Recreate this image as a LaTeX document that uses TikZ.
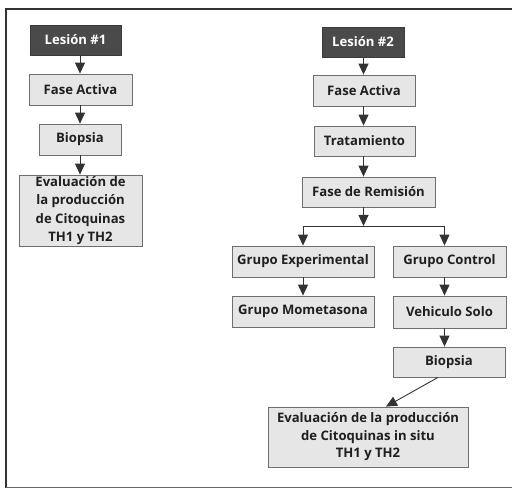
\documentclass[tikz,border=0pt]{standalone}
\usepackage{fontspec}
\setmainfont{Open Sans}
\usetikzlibrary{arrows.meta,calc}
\definecolor{boxfill}{HTML}{E6E6E6}
\definecolor{boxline}{HTML}{6E6E6E}
\definecolor{darkbox}{HTML}{4A4A4A}
\definecolor{arrowc}{HTML}{333333}
\begin{document}
\begin{tikzpicture}[x=1pt,y=-1pt,
  stepbox/.style={draw=boxline,fill=boxfill,line width=0.8pt,inner sep=0pt,align=center,
     font=\fontsize{13.1}{17.5}\selectfont\bfseries,text=black!88},
  headbox/.style={draw=darkbox!80!black,fill=darkbox,inner sep=0pt,align=center,
     font=\fontsize{13.1}{17}\selectfont\bfseries,text=white},
  arr/.style={draw=arrowc,line width=0.9pt,-{Triangle[width=10pt,length=11pt]}},
  ln/.style={draw=arrowc,line width=0.9pt}]
\useasboundingbox (0,0) rectangle (512,489);
% frame
\draw[line width=1.6pt,black!80] (514,9) -- (6,9) -- (6,487.5);
\draw[line width=1.2pt,black!60] (6,487.5) -- (514,487.5);
% left column
\node[headbox,minimum width=91pt,minimum height=30pt] (L1) at (75.5,40) {Lesión \#1};
\node[stepbox,minimum width=103pt,minimum height=31pt] (FA1) at (80.5,89.5) {Fase Activa};
\node[stepbox,minimum width=82pt,minimum height=31pt] (B1) at (80,139.5) {Biopsia};
\node[stepbox,minimum width=123pt,minimum height=71pt,font=\fontsize{13.1}{18.5}\selectfont\bfseries] (E1) at (80.5,210.5) {Evaluación de\\la producción\\de Citoquinas\\TH1 y TH2};
\coordinate (c1) at (80,0);
\draw[arr] (L1.south -| c1) -- (FA1.north -| c1);
\draw[arr] (FA1.south -| c1) -- (B1.north -| c1);
\draw[arr] (B1.south -| c1) -- (E1.north -| c1);
% right column
\node[headbox,minimum width=82pt,minimum height=30pt] (L2) at (363,42) {Lesión \#2};
\node[stepbox,minimum width=102pt,minimum height=31pt] (FA2) at (364,90.5) {Fase Activa};
\node[stepbox,minimum width=101pt,minimum height=30pt] (T) at (364.5,141) {Tratamiento};
\node[stepbox,minimum width=133pt,minimum height=30pt] (R) at (368.5,192) {Fase de Remisión};
\coordinate (c2) at (363.5,0);
\draw[arr] (L2.south -| c2) -- (FA2.north -| c2);
\draw[arr] (FA2.south -| c2) -- (T.north -| c2);
\draw[arr] (T.south -| c2) -- (R.north -| c2);
\coordinate (split) at (363.5,226);
\coordinate (sl) at (303,226);
\coordinate (sr) at (444.5,226);
\draw[arr] (R.south -| c2) -- (split);
\draw[ln] (sl) -- (sr);
\node[stepbox,minimum width=142pt,minimum height=31pt] (GE) at (303,261.5) {Grupo Experimental};
\node[stepbox,minimum width=113pt,minimum height=31pt] (GC) at (449.5,261.5) {Grupo Control};
\node[stepbox,minimum width=142pt,minimum height=31pt] (GM) at (303,311.5) {Grupo Mometasona};
\node[stepbox,minimum width=113pt,minimum height=32pt] (VS) at (449.5,312) {Vehiculo Solo};
\node[stepbox,minimum width=112pt,minimum height=30pt] (B2) at (449,362) {Biopsia};
\node[stepbox,minimum width=200pt,minimum height=60pt] (E2) at (368,437) {Evaluación de la producción\\de Citoquinas in situ\\TH1 y TH2};
\draw[arr] (sl) -- (GE.north -| sl);
\draw[arr] (sr) -- (GC.north -| sr);
\draw[arr] (GE.south -| sl) -- (GM.north -| sl);
\draw[arr] (GC.south -| sr) -- (VS.north -| sr);
\draw[arr] (VS.south -| sr) -- (B2.north -| sr);
\draw[arr] ($(B2.south)+(-11,0)$) -- ($(E2.north)+(18,0)$);
\end{tikzpicture}
\end{document}
